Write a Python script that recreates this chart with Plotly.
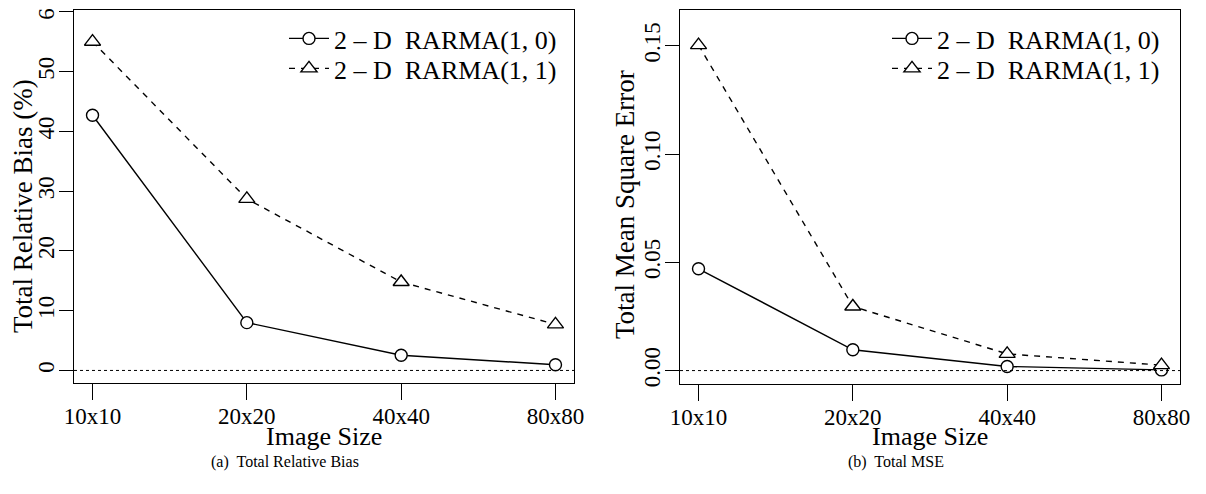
import plotly.graph_objects as go

categories = ["10x10", "20x20", "40x40", "80x80"]
bias_rarma10 = [42.7, 8.0, 2.55, 0.95]
bias_rarma11 = [55.0, 28.7, 14.8, 7.7]
mse_rarma10 = [0.047, 0.0096, 0.0019, 0.0003]
mse_rarma11 = [0.1503, 0.0296, 0.0077, 0.0025]
names = ["2 \u2013 D  RARMA(1, 0)", "2 \u2013 D  RARMA(1, 1)"]
bias_ticks = [0, 10, 20, 30, 40, 50, 60]
mse_ticks = [0.00, 0.05, 0.10, 0.15]

W, H = 1206, 494
OFF = 8  # default page body margin
FONT = "Liberation Serif"

def px(x):
    return (x - OFF) / W

def py(y):
    return (H - (y - OFF)) / H

fig = go.Figure()

def add_pair(xa, ya, v1, v2, leg1, leg2):
    fig.add_trace(go.Scatter(
        x=categories, y=v1, name=names[0], mode="lines+markers",
        xaxis=xa, yaxis=ya, legend=leg1,
        line=dict(color="black", width=1.4, dash="solid"),
        marker=dict(symbol="circle", size=12, color="white",
                    line=dict(color="black", width=1.4)),
    ))
    fig.add_trace(go.Scatter(
        x=categories, y=v2, name=names[1], mode="lines+markers",
        xaxis=xa, yaxis=ya, legend=leg2,
        line=dict(color="black", width=1.4, dash="6px,6px"),
        marker=dict(symbol="triangle-up", size=14, color="white",
                    line=dict(color="black", width=1.4)),
    ))

add_pair("x", "y", bias_rarma10, bias_rarma11, "legend", "legend2")
add_pair("x2", "y2", mse_rarma10, mse_rarma11, "legend3", "legend4")

ax_common = dict(
    showline=True, mirror=True, linecolor="black", linewidth=1.4,
    showgrid=False, zeroline=False, ticks="outside", tickcolor="black",
    tickwidth=1.4, tickfont=dict(family=FONT, size=23, color="black"),
    ticklabeloverflow="allow", automargin=False, ticklabelstandoff=-4,
)

LEGFONT = dict(family=FONT, size=26, color="black")

def leg(xs, ys):
    return dict(x=px(xs), y=py(ys), xanchor="left", yanchor="top",
                bgcolor="rgba(0,0,0,0)", font=LEGFONT, itemwidth=40,
                tracegroupgap=0)

fig.update_layout(
    width=W, height=H,
    margin=dict(l=0, r=0, t=0, b=0, autoexpand=False),
    paper_bgcolor="white", plot_bgcolor="white",
    font=dict(family=FONT, color="black"),
    xaxis=dict(domain=[px(74), px(574)], range=[-0.12, 3.12], anchor="y",
               ticklen=16, **ax_common),
    yaxis=dict(domain=[py(383), py(10)], range=[-2.1, 60.3], anchor="x",
               tickvals=bias_ticks, ticktext=[str(t) for t in bias_ticks],
               tickangle=-90, ticklen=14, **ax_common),
    xaxis2=dict(domain=[px(680), px(1180)], range=[-0.12, 3.12], anchor="y2",
                ticklen=16, **ax_common),
    yaxis2=dict(domain=[py(384), py(10)], range=[-0.0062, 0.1665], anchor="x2",
                tickvals=mse_ticks, ticktext=["%.2f" % t for t in mse_ticks],
                tickangle=-90, ticklen=14, **ax_common),
    legend=leg(284, 15),
    legend2=leg(284, 45),
    legend3=leg(887, 15),
    legend4=leg(887, 45),
    showlegend=True,
)

for xr, yr in (("x", "y"), ("x2", "y2")):
    fig.add_shape(type="line", xref=xr + " domain", yref=yr, x0=0, x1=1,
                  y0=0, y1=0, line=dict(color="black", width=1, dash="dot"))

annots = [
    dict(text="Image Size", x=px(324), y=py(436), size=26, angle=0),
    dict(text="Image Size", x=px(930), y=py(436), size=26, angle=0),
    dict(text="Total Relative Bias (%)", x=px(23), y=py(206), size=27, angle=-90),
    dict(text="Total Mean Square Error", x=px(625), y=py(204), size=27, angle=-90),
    dict(text="(a)  Total Relative Bias", x=px(285), y=py(462), size=16, angle=0),
    dict(text="(b)  Total MSE", x=px(896), y=py(462), size=16, angle=0),
]
for a in annots:
    fig.add_annotation(text=a["text"], x=a["x"], y=a["y"], xref="paper", yref="paper",
                       xanchor="center", yanchor="middle", showarrow=False,
                       textangle=a["angle"],
                       font=dict(family=FONT, size=a["size"], color="black"))

fig.write_html("out.html")
